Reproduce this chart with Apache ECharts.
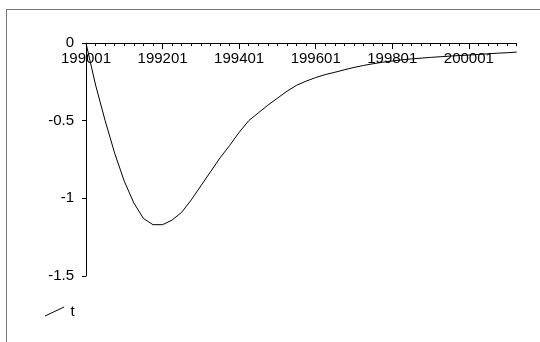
<!DOCTYPE html>
<html>
<head>
<meta charset="utf-8">
<script src="https://cdn.jsdelivr.net/npm/echarts@6/dist/echarts.min.js"></script>
<style>
  html, body { margin: 0; padding: 0; background: #fff; }
  #frame { position: absolute; left: 6px; top: 9px; width: 540px; height: 340px;
           border-left: 1px solid #777; border-top: 1px solid #777; }
  #chart { position: absolute; left: 0; top: 0; width: 540px; height: 342px; }
</style>
</head>
<body>
<div id="frame"></div>
<div id="chart"></div>
<script>
const categories = [
  '199001','199004','199007','199010','199101','199104','199107','199110',
  '199201','199204','199207','199210','199301','199304','199307','199310',
  '199401','199404','199407','199410','199501','199504','199507','199510',
  '199601','199604','199607','199610','199701','199704','199707','199710',
  '199801','199804','199807','199810','199901','199904','199907','199910',
  '200001','200004','200007','200010','200101','200104'
];
const tValues = [
  0, -0.27, -0.50, -0.71, -0.89, -1.03, -1.13, -1.17,
  -1.17, -1.14, -1.09, -1.01, -0.92, -0.83, -0.74, -0.66,
  -0.575, -0.50, -0.45, -0.40, -0.355, -0.31, -0.272, -0.245,
  -0.222, -0.203, -0.188, -0.172, -0.157, -0.144, -0.133, -0.123,
  -0.115, -0.108, -0.102, -0.097, -0.092, -0.088, -0.084, -0.080,
  -0.077, -0.073, -0.069, -0.065, -0.062, -0.058
];
const seriesName = 't';
const yTicks = { min: -1.5, max: 0, interval: 0.5 };

const font = 'Liberation Sans, Arial, sans-serif';
const chart = echarts.init(document.getElementById('chart'), null, { renderer: 'canvas' });
chart.setOption({
  animation: false,
  backgroundColor: 'transparent',
  grid: { left: 86, right: 23.3, top: 43.1, bottom: 66.1, containLabel: false },
  legend: {
    left: 45, top: 304, padding: 0, itemGap: 10,
    itemWidth: 22, itemHeight: 10,
    icon: 'path://M0,10L21,0L21,1L0,11Z',
    itemStyle: { color: '#000' },
    textStyle: { fontFamily: font, fontSize: 15, color: '#000' },
    data: [seriesName]
  },
  xAxis: [
    {
      type: 'category', data: categories, boundaryGap: false, position: 'top',
      axisLine: { show: true, onZero: false, lineStyle: { color: '#000', width: 1 } },
      axisTick: { show: true, inside: true, interval: 0, length: 3, lineStyle: { color: '#000' } },
      axisLabel: { show: false },
      splitLine: { show: false }
    },
    {
      type: 'category', data: categories, boundaryGap: false, position: 'top',
      axisLine: { show: false, onZero: false },
      axisTick: { show: true, inside: true, interval: 7, length: 6, lineStyle: { color: '#000' } },
      axisLabel: { show: true, inside: true, interval: 7, margin: 8,
                   fontFamily: font, fontSize: 15, color: '#000' },
      splitLine: { show: false }
    }
  ],
  yAxis: {
    type: 'value', min: yTicks.min, max: yTicks.max, interval: yTicks.interval,
    axisLine: { show: true, lineStyle: { color: '#000', width: 1 } },
    axisTick: { show: true, length: 4, lineStyle: { color: '#000' } },
    axisLabel: { margin: 12, fontFamily: font, fontSize: 15, color: '#000',
                 formatter: v => String(v) },
    splitLine: { show: false }
  },
  series: [{
    name: seriesName, type: 'line', xAxisIndex: 0, data: tValues,
    showSymbol: false, symbol: 'none',
    lineStyle: { color: '#000', width: 1 },
    itemStyle: { color: '#000' }
  }]
});
</script>
</body>
</html>
